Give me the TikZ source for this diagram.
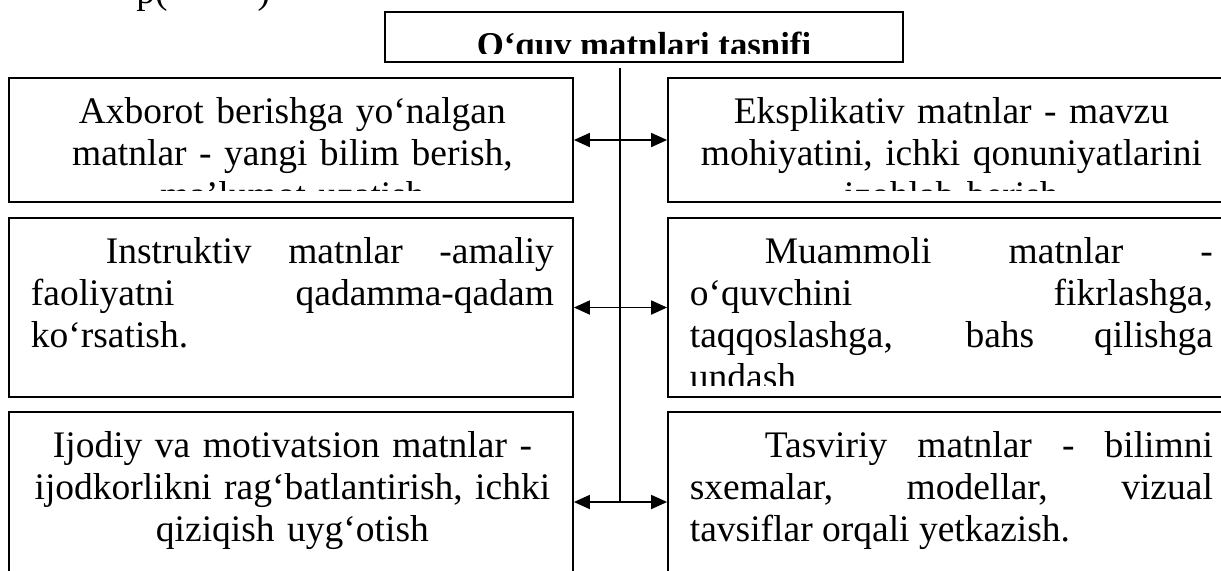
\documentclass[tikz,border=0pt]{standalone}
\usepackage{fontspec}
\setmainfont{Liberation Serif}
\usetikzlibrary{arrows.meta}

\newcommand{\boxfont}{\fontsize{18.75pt}{21pt}\selectfont}
\newcommand{\headfont}{\fontsize{17.4pt}{20pt}\selectfont\bfseries}

\tikzstyle{textbox} = [rectangle, draw=black, line width=0.9pt, inner sep=0pt, minimum width=282pt]
\tikzstyle{boxtext} = [anchor=north west, inner sep=0pt, minimum width=0pt, minimum height=0pt, text width=261.5pt, font=\boxfont]
\tikzstyle{arrow} = [line width=0.9pt, {Triangle[length=8pt,width=7pt]}-{Triangle[length=8pt,width=7pt]}]

% text of a box, cut off by the box's inner margin
\newcommand{\boxtxt}[2]{%
  \clip ([yshift=6pt]path picture bounding box.south west) rectangle (path picture bounding box.north east);
  \node [boxtext, align=#1] at ([xshift=10.5pt,yshift=-7.8pt]path picture bounding box.north west) {#2};}

\begin{document}
\begin{tikzpicture}
\useasboundingbox (0pt,0pt) rectangle (610.5pt,-285pt);

% line left over from the page above
\node (frag) [anchor=base west, inner sep=0pt, font=\boxfont] at (68pt,-1.5pt) {p(\hspace{45pt})};

% heading
\node (title) [textbox, minimum width=259pt, minimum height=25pt, path picture={
  \clip ([yshift=4.5pt]path picture bounding box.south west) rectangle (path picture bounding box.north east);
  \node [anchor=base, inner sep=0pt, minimum width=0pt, minimum height=0pt, font=\headfont] at ([yshift=-22pt]path picture bounding box.north) {O‘quv matnlari tasnifi};
}] at (322pt,-18.5pt) {};

% left column
\node (axborot) [textbox, minimum height=62pt, path picture={
  \boxtxt{center}{\strut Axborot berishga yo‘nalgan\\ matnlar - yangi bilim berish,\\ ma’lumot uzatish}
}] at (145.5pt,-70pt) {};
\node (instruk) [textbox, minimum height=89.5pt, path picture={
  \boxtxt{justify}{\hspace*{37.5pt}\strut Instruktiv matnlar -amaliy\linebreak faoliyatni qadamma-qadam\linebreak ko‘rsatish.}
}] at (145.5pt,-153.75pt) {};
\node (ijodiy) [textbox, minimum height=90pt, path picture={
  \boxtxt{center}{\strut Ijodiy va motivatsion matnlar -\\ ijodkorlikni rag‘batlantirish, ichki\\ qiziqish uyg‘otish}
}] at (145.5pt,-251pt) {};

% right column
\node (eksplik) [textbox, minimum height=62pt, path picture={
  \boxtxt{center}{\strut Eksplikativ matnlar - mavzu\\ mohiyatini, ichki qonuniyatlarini\\ izohlab berish}
}] at (475pt,-70pt) {};
\node (muammo) [textbox, minimum height=89.5pt, path picture={
  \boxtxt{justify}{\hspace*{37.5pt}\strut Muammoli matnlar -\linebreak o‘quvchini fikrlashga,\linebreak taqqoslashga, bahs qilishga\linebreak undash}
}] at (475pt,-153.75pt) {};
\node (tasvir) [textbox, minimum height=90pt, path picture={
  \boxtxt{justify}{\hspace*{37.5pt}\strut Tasviriy matnlar - bilimni\linebreak sxemalar, modellar, vizual\linebreak tavsiflar orqali yetkazish.}
}] at (475pt,-251pt) {};

% spine and arrows
\coordinate (spine) at (310pt,-34pt);
\draw [line width=0.9pt] (spine) -- (spine |- ijodiy.east);
\draw [arrow] (axborot.east) -- (eksplik.west);
\draw [arrow] (instruk.east) -- (muammo.west);
\draw [arrow] (ijodiy.east) -- (tasvir.west);

\end{tikzpicture}
\end{document}
